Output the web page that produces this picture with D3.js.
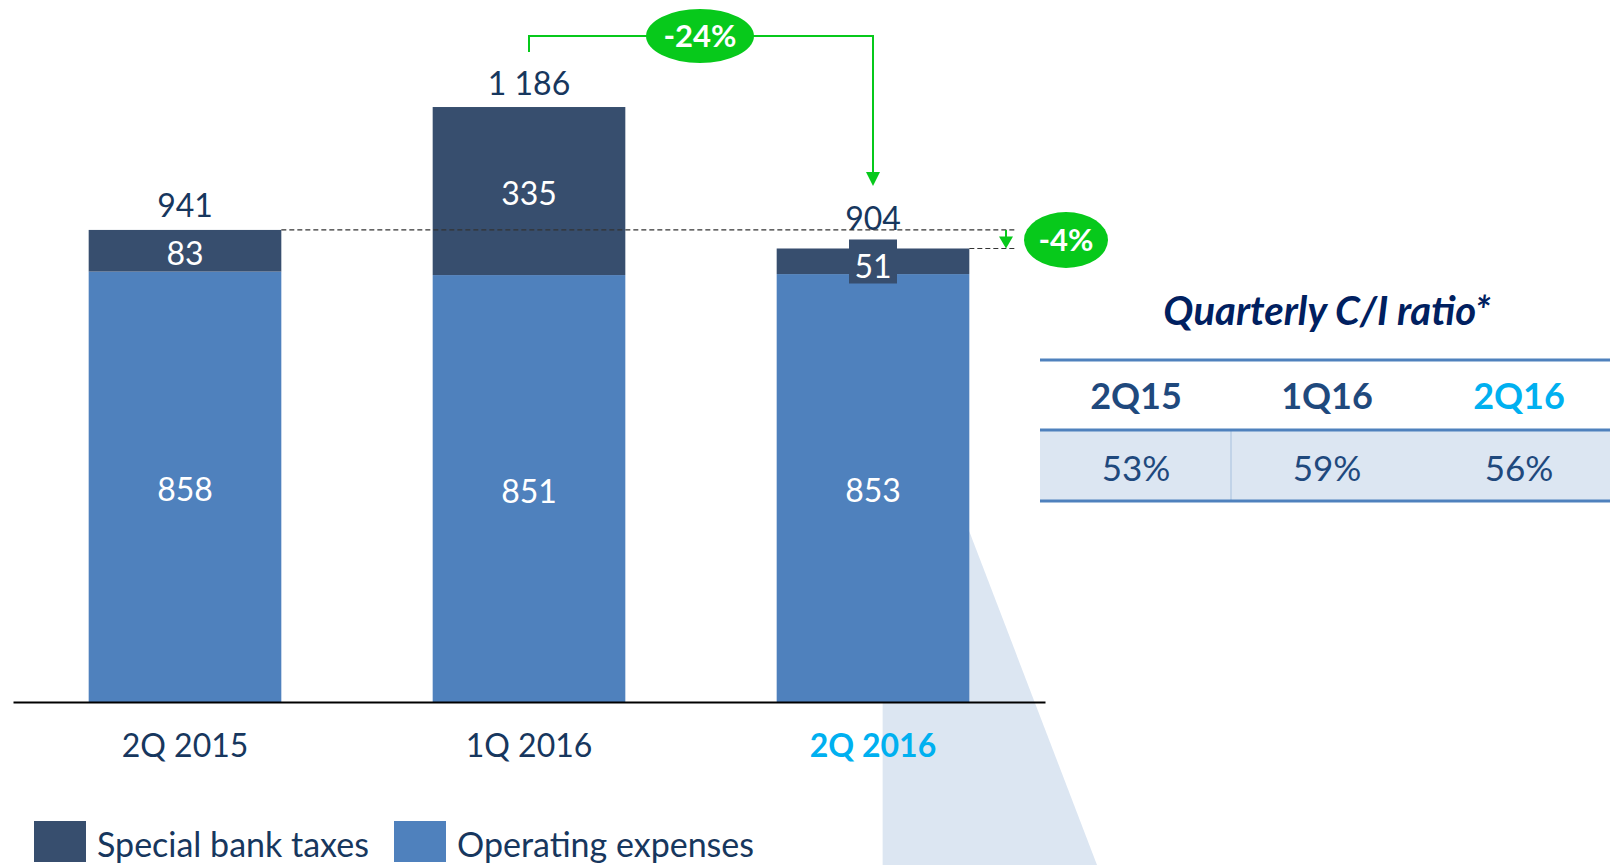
<!DOCTYPE html>
<html>
<head>
<meta charset="utf-8">
<script src="https://cdn.jsdelivr.net/npm/d3@7"></script>
<style>
  body { margin: 0; background: #fff; }
  svg { display: block; font-family: Lato, "Open Sans", sans-serif; }
</style>
</head>
<body>
<svg id="chart" width="1610" height="865"></svg>
<script>
// chart data
const categories = ["2Q 2015", "1Q 2016", "2Q 2016"];
const operatingExpenses = [858, 851, 853];
const specialBankTaxes = [83, 335, 51];
const totals = [941, 1186, 904];
const changeLabels = ["-24%", "-4%"];

// C/I table
const ratioHeaders = ["2Q15", "1Q16", "2Q16"];
const ratioValues = ["53%", "59%", "56%"];

const seriesNames = ["Special bank taxes", "Operating expenses"];

const darkBlue = "#374e6e",
    midBlue = "#4f81bd",
    navy = "#17375e",
    cyan = "#00b0f0",
    green = "#07c91b",
    paleBlue = "#dce6f2";

const svg = d3.select("#chart");

const x = d3.scaleBand()
    .domain(categories)
    .range([13, 1045])
    .paddingInner(0.44)
    .paddingOuter(0.22);

const y = d3.scaleLinear()
    .domain([0, 1200])
    .range([702, 100]);

const fmt = d3.formatLocale({ decimal: ",", thousands: " ", grouping: [3], currency: ["", ""] }).format(",");

// light callout shape behind the last bar
const last = categories[2];
svg.append("polygon")
    .attr("points", [
        [x(last) + x.bandwidth() * 0.55, y(340)],
        [x(last) + x.bandwidth(), y(340)],
        [1097, 865],
        [x(last) + x.bandwidth() * 0.55, 865]
    ].map(p => p.join(",")).join(" "))
    .attr("fill", paleBlue);

// stacked bars
const rows = categories.map((c, i) => ({ cat: c, opex: operatingExpenses[i], tax: specialBankTaxes[i], total: totals[i] }));

const bar = svg.selectAll(".bar")
    .data(rows)
    .enter().append("g")
    .attr("class", "bar");

bar.append("rect")
    .attr("x", d => x(d.cat))
    .attr("width", x.bandwidth())
    .attr("y", d => y(d.opex))
    .attr("height", d => y(0) - y(d.opex))
    .attr("fill", midBlue);

bar.append("rect")
    .attr("x", d => x(d.cat))
    .attr("width", x.bandwidth())
    .attr("y", d => y(d.opex + d.tax))
    .attr("height", d => y(d.opex) - y(d.opex + d.tax))
    .attr("fill", darkBlue);

// small label box for the thin segment
const thin = rows[2];
const cx2 = x(thin.cat) + x.bandwidth() / 2;
bar.filter((d, i) => i === 2).append("rect")
    .attr("x", cx2 - 24)
    .attr("y", y(thin.total) - 9)
    .attr("width", 48)
    .attr("height", 44)
    .attr("fill", darkBlue);

bar.append("text")
    .attr("x", d => x(d.cat) + x.bandwidth() / 2)
    .attr("y", (d, i) => i === 2 ? y(d.opex + d.tax / 2) + 3 : y(d.opex + d.tax / 2))
    .attr("dy", "0.44em")
    .attr("text-anchor", "middle")
    .attr("fill", "#fff")
    .style("font-size", "32px")
    .text(d => fmt(d.tax));

bar.append("text")
    .attr("x", d => x(d.cat) + x.bandwidth() / 2)
    .attr("y", d => y(d.opex / 2))
    .attr("dy", "0.44em")
    .attr("text-anchor", "middle")
    .attr("fill", "#fff")
    .style("font-size", "32px")
    .text(d => fmt(d.opex));

bar.append("text")
    .attr("x", d => x(d.cat) + x.bandwidth() / 2)
    .attr("y", (d, i) => y(d.total) - (i === 2 ? 30 : 24))
    .attr("dy", "0.36em")
    .attr("text-anchor", "middle")
    .attr("fill", navy)
    .style("font-size", "32px")
    .text(d => fmt(d.total));

// axis
const axis = svg.append("g")
    .attr("transform", `translate(0,${y(0)})`)
    .call(d3.axisBottom(x).tickSize(0).tickPadding(32));
axis.select(".domain").attr("stroke", "#000").attr("stroke-width", 2);
axis.selectAll(".tick text")
    .attr("font-family", "Lato, sans-serif")
    .style("font-size", "32px")
    .attr("fill", (d, i) => i === 2 ? cyan : navy)
    .style("font-weight", (d, i) => i === 2 ? "bold" : "normal");

// dashed reference lines
const xEnd = 1016;
svg.append("line")
    .attr("x1", x(categories[0]) + x.bandwidth()).attr("x2", xEnd)
    .attr("y1", y(totals[0])).attr("y2", y(totals[0]))
    .attr("stroke", "#333").attr("stroke-width", 1.2).attr("stroke-dasharray", "5,3");
svg.append("line")
    .attr("x1", x(last) + x.bandwidth()).attr("x2", xEnd)
    .attr("y1", y(totals[2])).attr("y2", y(totals[2]))
    .attr("stroke", "#333").attr("stroke-width", 1.2).attr("stroke-dasharray", "5,3");

// -24% bracket
const cx1 = x(categories[1]) + x.bandwidth() / 2;
const topY = 36, arrowTip = 186;
svg.append("path")
    .attr("d", `M${cx1},52 V${topY} H${cx2} V${arrowTip - 12}`)
    .attr("fill", "none").attr("stroke", green).attr("stroke-width", 2);
svg.append("path")
    .attr("d", `M${cx2 - 7},${arrowTip - 14} L${cx2 + 7},${arrowTip - 14} L${cx2},${arrowTip} Z`)
    .attr("fill", green);
svg.append("ellipse")
    .attr("cx", 700).attr("cy", topY).attr("rx", 54).attr("ry", 27)
    .attr("fill", green);
svg.append("text")
    .attr("x", 700).attr("y", topY).attr("dy", "0.36em")
    .attr("text-anchor", "middle").attr("fill", "#fff")
    .style("font-size", "31px").style("font-weight", "bold")
    .text(changeLabels[0]);

// -4% arrow
const ax = 1006;
svg.append("line")
    .attr("x1", ax).attr("x2", ax)
    .attr("y1", y(totals[0])).attr("y2", y(totals[2]) - 8)
    .attr("stroke", green).attr("stroke-width", 2);
svg.append("path")
    .attr("d", `M${ax - 7},${y(totals[2]) - 12} L${ax + 7},${y(totals[2]) - 12} L${ax},${y(totals[2])} Z`)
    .attr("fill", green);
svg.append("ellipse")
    .attr("cx", 1066).attr("cy", 240).attr("rx", 42).attr("ry", 28)
    .attr("fill", green);
svg.append("text")
    .attr("x", 1066).attr("y", 240).attr("dy", "0.36em")
    .attr("text-anchor", "middle").attr("fill", "#fff")
    .style("font-size", "31px").style("font-weight", "bold")
    .text(changeLabels[1]);

// C/I ratio table
const colX = d => [1136, 1327, 1519][ratioHeaders.indexOf(d)];

svg.append("text")
    .attr("x", 1327).attr("y", 311).attr("dy", "0.36em")
    .attr("text-anchor", "middle").attr("fill", "#002060")
    .style("font-size", "40px").style("font-weight", "bold").style("font-style", "italic")
    .text("Quarterly C/I ratio*");

svg.append("rect")
    .attr("x", 1040).attr("y", 430).attr("width", 570).attr("height", 71)
    .attr("fill", paleBlue);
svg.append("line")
    .attr("x1", 1231).attr("x2", 1231).attr("y1", 430).attr("y2", 501)
    .attr("stroke", "#b8cce4").attr("stroke-width", 1.5);
[360, 430, 501].forEach(ly => {
    svg.append("line")
        .attr("x1", 1040).attr("x2", 1610).attr("y1", ly).attr("y2", ly)
        .attr("stroke", midBlue).attr("stroke-width", 3);
});

svg.selectAll(".hdr")
    .data(ratioHeaders)
    .enter().append("text")
    .attr("x", colX).attr("y", 396).attr("dy", "0.36em")
    .attr("text-anchor", "middle")
    .attr("fill", (d, i) => i === 2 ? cyan : "#1f497d")
    .style("font-size", "36px").style("font-weight", "bold")
    .text(d => d);

svg.selectAll(".val")
    .data(ratioValues)
    .enter().append("text")
    .attr("x", (d, i) => colX(ratioHeaders[i])).attr("y", 468).attr("dy", "0.36em")
    .attr("text-anchor", "middle")
    .attr("fill", "#1f497d")
    .style("font-size", "35px")
    .text(d => d);

// legend
const legend = svg.append("g").attr("transform", "translate(34,821)");
const legX = [0, 360];
seriesNames.forEach((name, i) => {
    legend.append("rect")
        .attr("x", legX[i]).attr("y", 0).attr("width", 52).attr("height", 41)
        .attr("fill", i === 0 ? darkBlue : midBlue);
    legend.append("text")
        .attr("x", legX[i] + 63).attr("y", 24).attr("dy", "0.36em")
        .attr("fill", navy)
        .style("font-size", "34px")
        .text(name);
});
</script>
</body>
</html>
